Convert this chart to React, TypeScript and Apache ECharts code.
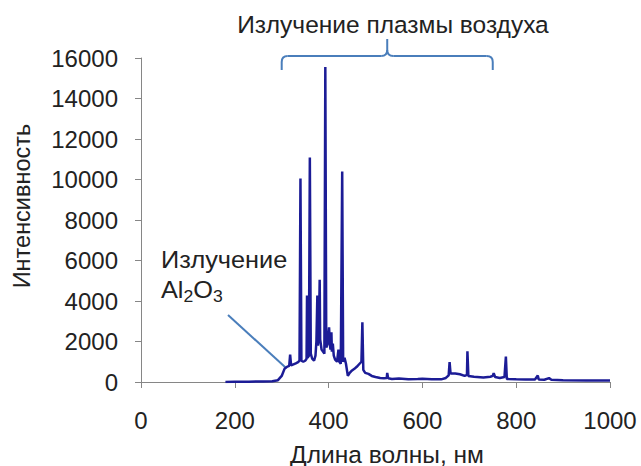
import React, { useEffect, useRef } from "react";
import * as echarts from "echarts";

// Wavelength (nm) and intensity values
const wavelengths = [
  180, 200, 230, 260, 280, 292, 300, 306, 312, 316, 318, 320, 325, 330, 335, 338,
  340, 342, 346, 350, 353, 354, 355, 358, 360, 362, 365, 369, 372, 374, 376, 377,
  379, 381, 382, 385, 388, 391, 393, 395, 398, 401, 403, 404, 406, 407, 409, 411,
  414, 418, 421, 423, 426, 429, 431, 434, 437, 441, 445, 450, 455, 460, 466, 470,
  472, 474, 478, 485, 492, 500, 510, 518, 524, 525, 527, 535, 550, 570, 590, 600,
  620, 640, 650, 656, 658, 660, 670, 680, 690, 695, 696, 698, 710, 730, 745, 750,
  752, 755, 765, 775, 778, 780, 800, 820, 840, 846, 848, 860, 870, 875, 900, 950,
  1000,
];
const intensities = [
  0, 10, 15, 25, 40, 90, 300, 650, 760, 800, 1350, 820, 870, 920, 980, 1050,
  10050, 1050, 1000, 1050, 1150, 4270, 1200, 1300, 11090, 1400, 1150, 1050, 1300, 2000, 4270, 1800,
  2200, 5050, 2100, 1600, 1500, 1400, 15550, 1700, 1900, 2700, 1800, 1600, 2460, 1500, 1900, 1300,
  1100, 1000, 1600, 1000, 900, 10400, 1000, 1200, 900, 300, 450, 570, 650, 750, 900, 1000,
  2950, 600, 450, 400, 300, 250, 200, 180, 200, 450, 180, 150, 170, 140, 150, 160,
  140, 130, 200, 330, 980, 420, 420, 380, 300, 350, 1520, 300, 260, 220, 260, 300,
  430, 250, 200, 250, 1260, 150, 130, 120, 120, 320, 120, 110, 190, 110, 90, 80,
  75,
];

const xMin = 0;
const xMax = 1000;
const xStep = 200;
const yMin = 0;
const yMax = 16000;
const yStep = 2000;

const xTitle = "Длина волны, нм";
const yTitle = "Интенсивность";
const topLabel = "Излучение плазмы воздуха";
const sideLabel = "Излучение";

// annotation anchors (nm)
const braceStart = 300;
const braceEnd = 750;
const braceMid = 525;
const pointerTarget: [number, number] = [310, 680];

const FONT = "'Liberation Sans', Arial, Helvetica, sans-serif";
const TEXT = "#222222";
const AXIS = "#868686";
const LINE = "#1c1c96";
const ANNOT = "#4a7ebb";

export default function App() {
  const ref = useRef<HTMLDivElement>(null);

  useEffect(() => {
    if (!ref.current) return;
    const chart = echarts.init(ref.current, null, { renderer: "svg" });
    const data = wavelengths.map((w, i) => [w, intensities[i]]);

    chart.setOption({
      animation: false,
      grid: { left: 141, right: 31, top: 58, bottom: 84 },
      xAxis: {
        type: "value",
        min: xMin,
        max: xMax,
        interval: xStep,
        axisLine: { show: true, lineStyle: { color: AXIS, width: 1 } },
        axisTick: { show: true, length: 6, inside: false, lineStyle: { color: AXIS } },
        axisLabel: { fontSize: 24, color: TEXT, fontFamily: FONT, margin: 26, formatter: (v: number) => String(v) },
        splitLine: { show: false },
      },
      yAxis: {
        type: "value",
        min: yMin,
        max: yMax,
        interval: yStep,
        axisLine: { show: true, lineStyle: { color: AXIS, width: 1 } },
        axisTick: { show: true, length: 6, inside: false, lineStyle: { color: AXIS } },
        axisLabel: { fontSize: 24, color: TEXT, fontFamily: FONT, margin: 23, formatter: (v: number) => String(v) },
        splitLine: { show: false },
      },
      series: [
        {
          type: "line",
          data,
          showSymbol: false,
          symbol: "none",
          lineStyle: { color: LINE, width: 2.5 },
          itemStyle: { color: LINE },
          z: 3,
        },
      ],
    });

    const px = (x: number, y: number) => chart.convertToPixel({ gridIndex: 0 }, [x, y]) as number[];
    const bl = px(braceStart, 0)[0];
    const br = px(braceEnd, 0)[0];
    const bm = px(braceMid, 0)[0];
    const yEnd = 70;
    const yH = 56;
    const yTip = 39;
    const r = 6;
    const ls = { stroke: ANNOT, lineWidth: 2, fill: "none" };
    const pt = px(pointerTarget[0], pointerTarget[1]);

    chart.setOption({
      graphic: [
        { type: "line", shape: { x1: bl, y1: yEnd, x2: bl, y2: yH + r }, style: ls },
        { type: "bezierCurve", shape: { x1: bl, y1: yH + r, x2: bl + r, y2: yH, cpx1: bl, cpy1: yH }, style: ls },
        { type: "line", shape: { x1: bl + r, y1: yH, x2: bm - r, y2: yH }, style: ls },
        { type: "bezierCurve", shape: { x1: bm - r, y1: yH, x2: bm, y2: yH - r, cpx1: bm, cpy1: yH }, style: ls },
        { type: "line", shape: { x1: bm, y1: yH - r, x2: bm, y2: yTip }, style: ls },
        { type: "bezierCurve", shape: { x1: bm + r, y1: yH, x2: bm, y2: yH - r, cpx1: bm, cpy1: yH }, style: ls },
        { type: "line", shape: { x1: bm + r, y1: yH, x2: br - r, y2: yH }, style: ls },
        { type: "bezierCurve", shape: { x1: br - r, y1: yH, x2: br, y2: yH + r, cpx1: br, cpy1: yH }, style: ls },
        { type: "line", shape: { x1: br, y1: yH + r, x2: br, y2: yEnd }, style: ls },
        { type: "line", shape: { x1: 228, y1: 315, x2: pt[0], y2: pt[1] }, style: { stroke: ANNOT, lineWidth: 2 } },
        {
          type: "text",
          x: 393,
          y: 24,
          style: { text: topLabel, fontSize: 24.5, fontFamily: FONT, fill: TEXT, align: "center", verticalAlign: "middle" },
        },
        {
          type: "text",
          x: 161,
          y: 260,
          scaleX: 1.1,
          style: { text: sideLabel, fontSize: 23, fontFamily: FONT, fill: TEXT, align: "left", verticalAlign: "middle" },
        },
        {
          type: "text",
          x: 161,
          y: 290,
          scaleX: 1.1,
          style: {
            text: "{a|Al}{s|2}{a|O}{s|3}",
            fontFamily: FONT,
            fill: TEXT,
            align: "left",
            verticalAlign: "middle",
            rich: {
              a: { fontSize: 23, lineHeight: 28, fontFamily: FONT, fill: TEXT },
              s: { fontSize: 16, lineHeight: 16, padding: [14, 0, 0, 0], fontFamily: FONT, fill: TEXT },
            },
          },
        },
        {
          type: "text",
          x: 387,
          y: 454,
          style: { text: xTitle, fontSize: 24.5, fontFamily: FONT, fill: TEXT, align: "center", verticalAlign: "middle" },
        },
        {
          type: "text",
          x: 22,
          y: 206,
          rotation: Math.PI / 2,
          style: { text: yTitle, fontSize: 23.5, fontFamily: FONT, fill: TEXT, align: "center", verticalAlign: "middle" },
        },
      ],
    });

    return () => chart.dispose();
  }, []);

  return (
    <div
      ref={ref}
      style={{ position: "fixed", left: 0, top: 0, width: 641, height: 466, background: "#fff" }}
    />
  );
}
